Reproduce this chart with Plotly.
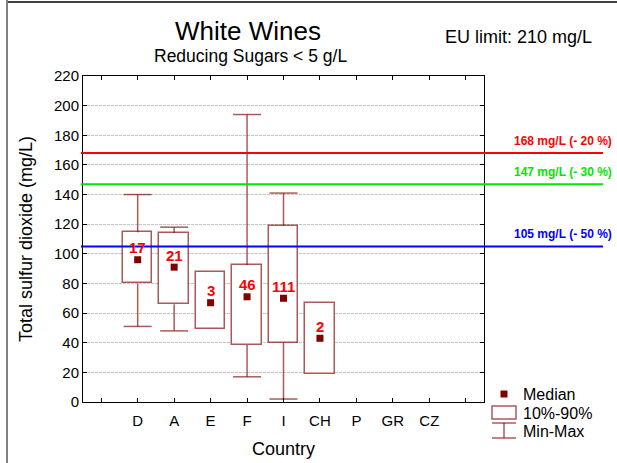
import plotly.graph_objects as go

# Countries on the x axis (blank slots at both ends)
countries = ["D", "A", "E", "F", "I", "CH", "P", "GR", "CZ"]

# Per-country statistics of total SO2 (mg/L), white wines with < 5 g/L sugar
n_samples = [17, 21, 3, 46, 111, 2]
median = [96, 91, 67, 71, 70, 43]
p10 = [80, 66, 49, 38.5, 40, 19]
p90 = [114.5, 114, 88, 92.5, 119, 67]
vmin = [51, 48, 49, 17, 2, 19]
vmax = [140, 118, 88, 194, 141, 67]

# EU limit and reduced reference levels
eu_limit = 210
reductions = [20, 30, 50]
ref_colors = ["#ff0000", "#00e600", "#0000ff"]

y_ticks = list(range(0, 221, 20))

FONT = "Liberation Sans, Arial, sans-serif"
BOX_LINE = "rgba(128,0,0,0.65)"
DARK_RED = "#800000"

# plot area in pixels
W, H = 617, 463
L, R, T, B = 83, 484, 76, 402

xs = [i + 1 for i in range(len(n_samples))]

fig = go.Figure()

# 10%-90% boxes
fig.add_trace(go.Bar(
    x=xs, base=p10, y=[hi - lo for hi, lo in zip(p90, p10)],
    width=0.81, marker=dict(color="white", line=dict(color=BOX_LINE, width=1.5)),
    showlegend=False, hoverinfo="skip",
))

# whiskers: min to 10 %, 90 % to max (only where they have length)
wx, wy, cx, cy = [], [], [], []
for x, lo, q1, q9, hi in zip(xs, vmin, p10, p90, vmax):
    if lo < q1:
        wx += [x, x, None]
        wy += [lo, q1, None]
        cx.append(x)
        cy.append(lo)
    if hi > q9:
        wx += [x, x, None]
        wy += [q9, hi, None]
        cx.append(x)
        cy.append(hi)
fig.add_trace(go.Scatter(
    x=wx, y=wy, mode="lines", line=dict(color=BOX_LINE, width=1.5),
    showlegend=False, hoverinfo="skip",
))

# whisker caps
fig.add_trace(go.Scatter(
    x=cx, y=cy, mode="markers",
    marker=dict(symbol="line-ew", size=20, line=dict(color=BOX_LINE, width=1.5)),
    showlegend=False, hoverinfo="skip",
))

# medians
fig.add_trace(go.Scatter(
    x=xs, y=median, mode="markers",
    marker=dict(symbol="square", size=7, color=DARK_RED),
    showlegend=False, hoverinfo="skip",
))

# sample counts above the medians
for x, m, n in zip(xs, median, n_samples):
    fig.add_annotation(
        x=x, y=m, text=f"<b>{n}</b>", showarrow=False, yshift=12,
        font=dict(family=FONT, size=15, color="#ff0000"),
    )

# reference lines for the reduced limits
for pct, col in zip(reductions, ref_colors):
    level = round(eu_limit * (100 - pct) / 100)
    fig.add_shape(
        type="line", xref="paper", yref="y",
        x0=(81 - L) / (R - L), x1=(603 - L) / (R - L), y0=level, y1=level,
        line=dict(color=col, width=2), layer="above",
    )
    fig.add_annotation(
        xref="paper", yref="y", x=(614 - L) / (R - L), y=level,
        xanchor="right", yanchor="bottom", yshift=3,
        text=f"<b>{level} mg/L (- {pct} %)</b>", showarrow=False,
        font=dict(family=FONT, size=12, color=col),
    )


def px(xp):
    return (xp - L) / (R - L)


def py(yp):
    return (B - yp) / (B - T)


# legend drawn by hand
leg_line = dict(color=BOX_LINE, width=1.5)
fig.add_shape(type="rect", xref="paper", yref="paper",
              x0=px(500.5), x1=px(507.5), y0=py(390.5), y1=py(397.5),
              fillcolor=DARK_RED, line=dict(width=0))
fig.add_shape(type="rect", xref="paper", yref="paper",
              x0=px(492), x1=px(516), y0=py(406), y1=py(419),
              fillcolor="white", line=leg_line)
fig.add_shape(type="line", xref="paper", yref="paper",
              x0=px(504), x1=px(504), y0=py(423), y1=py(438), line=leg_line)
for yy in (423, 438):
    fig.add_shape(type="line", xref="paper", yref="paper",
                  x0=px(492), x1=px(516), y0=py(yy), y1=py(yy), line=leg_line)
for label, yy in zip(["Median", "10%-90%", "Min-Max"], [394, 413, 431]):
    fig.add_annotation(xref="paper", yref="paper", x=px(521), y=py(yy),
                       xanchor="left", yanchor="middle", text=label, showarrow=False,
                       font=dict(family=FONT, size=16, color="black"))

# titles
fig.add_annotation(xref="paper", yref="paper", x=px(248), y=py(30.5),
                   text="White Wines", showarrow=False, xanchor="center", yanchor="middle",
                   font=dict(family=FONT, size=26, color="black"))
fig.add_annotation(xref="paper", yref="paper", x=px(250), y=py(56),
                   text="Reducing Sugars < 5 g/L", showarrow=False, xanchor="center",
                   yanchor="middle", font=dict(family=FONT, size=17.5, color="black"))
fig.add_annotation(xref="paper", yref="paper", x=px(443), y=py(37.5),
                   text=f"EU limit: {eu_limit} mg/L", showarrow=False, xanchor="left",
                   yanchor="middle", font=dict(family=FONT, size=18, color="black"))

# frame lines along the top and left edges of the picture
fig.add_shape(type="line", xref="paper", yref="paper",
              x0=px(7), x1=px(617), y0=py(2), y1=py(2), line=dict(color="black", width=1.5))
fig.add_shape(type="line", xref="paper", yref="paper",
              x0=px(7), x1=px(7), y0=py(0), y1=py(463), line=dict(color="#808080", width=2))

fig.update_layout(
    width=W, height=H,
    margin=dict(l=L, r=W - R, t=T, b=H - B, pad=0),
    paper_bgcolor="white", plot_bgcolor="white",
    font=dict(family=FONT, color="black"),
    showlegend=False,
    bargap=0,
)
fig.update_xaxes(
    range=[-0.5, 10.5], tickvals=list(range(11)),
    ticktext=[""] + countries + [""],
    ticks="inside", ticklen=4, tickcolor="black", tickwidth=1,
    showline=True, linecolor="black", linewidth=1, mirror="ticks",
    showgrid=False, zeroline=False, ticklabelstandoff=5, automargin=False,
    tickfont=dict(family=FONT, size=15),
    title=dict(text="Country", font=dict(family=FONT, size=18), standoff=14),
)
fig.update_yaxes(
    range=[0, 220], tickvals=y_ticks,
    ticks="inside", ticklen=4, tickcolor="black", tickwidth=1,
    showline=True, linecolor="black", linewidth=1, mirror="ticks",
    showgrid=True, gridcolor="#c4c4c4", gridwidth=1, griddash="3px,1px",
    zeroline=False, automargin=False,
    tickfont=dict(family=FONT, size=15),
    title=dict(text="Total sulfur dioxide (mg/L)", font=dict(family=FONT, size=18), standoff=16),
)

fig.write_html("out.html")
